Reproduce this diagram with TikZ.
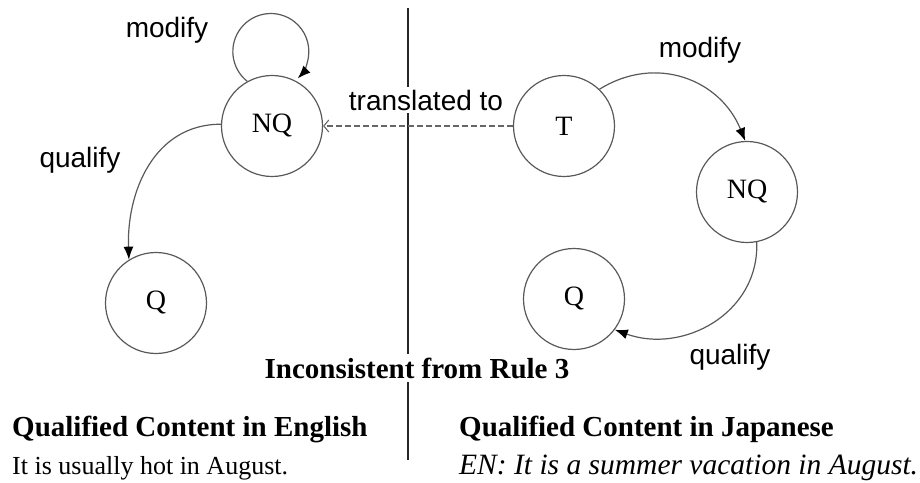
\documentclass[tikz,border=0pt]{standalone}
\usepackage{fontspec}
\setmainfont{Liberation Serif}
\newfontfamily\arialf{Liberation Sans}
\usetikzlibrary{arrows.meta}
\begin{document}
\begin{tikzpicture}[x=1pt,y=1pt,
  state/.style={circle,draw=black!65,line width=1.2pt,minimum size=101pt,inner sep=0pt,font=\fontsize{28}{32}\selectfont},
  lbl/.style={font=\arialf\fontsize{28}{32}\selectfont,inner sep=1pt},
  edgeline/.style={draw=black!65,line width=1.2pt,-{Latex[length=13pt,width=10pt,color=black]}},
  dashedline/.style={draw=black!60,line width=1.1pt,dashed,dash pattern=on 6pt off 3pt,-{Straight Barb[length=5pt,width=12pt]}},
  headtxt/.style={font=\bfseries\fontsize{29}{33}\selectfont,anchor=base west,inner sep=0pt},
  bodytxt/.style={font=\fontsize{26}{30}\selectfont,anchor=base west,inner sep=0pt}]
\useasboundingbox (0,0) rectangle (920,482);
% divider
\coordinate (vtop) at (408,474);
\coordinate (vbot) at (408,22);
\draw[line width=2.6pt,black!85] (vtop) -- (vbot);
% left graph
\node[state] (nqL) at (272,356) {NQ};
\node[state] (qL) at (156,179) {Q};
% right graph
\node[state] (t) at (564,356) {T};
\node[state] (nqR) at (747,290) {NQ};
\node[state] (qR) at (574,183) {Q};
% self loop
\draw[edgeline] (nqL.119) arc[start angle=231.6,end angle=-45,radius=38];
\draw[edgeline] (nqL.178) to[out=180,in=92,looseness=1.05] (qL.122);
\draw[edgeline] (t.46) to[out=32,in=112,looseness=1.1] (nqR.92);
\draw[edgeline] (nqR.281) to[out=-88,in=-20,looseness=1.1] (qR.323);
% labels
\node[lbl] (m1) at (167,452) {modify};
\node[lbl] (q1) at (80,322) {qualify};
\node[lbl] (m2) at (700,432) {modify};
\node[lbl] (q2) at (730,125) {qualify};
\node[lbl,fill=white,inner sep=3pt] (tr) at (426,382) {translated to};
\draw[dashedline] (t.west) -- (nqL.east);
\node[font=\bfseries\fontsize{29}{33}\selectfont,fill=white,inner sep=4pt] (inc) at (417,114) {Inconsistent from Rule 3};
\node[headtxt] (h1) at (12,46) {Qualified Content in English};
\node[bodytxt] (b1) at (12,8) {It is usually hot in August.};
\node[headtxt] (h2) at (459,46) {Qualified Content in Japanese};
\node[bodytxt,font=\itshape\fontsize{29.5}{33}\selectfont] (b2) at (459,8) {EN: It is a summer vacation in August.};
\end{tikzpicture}
\end{document}
